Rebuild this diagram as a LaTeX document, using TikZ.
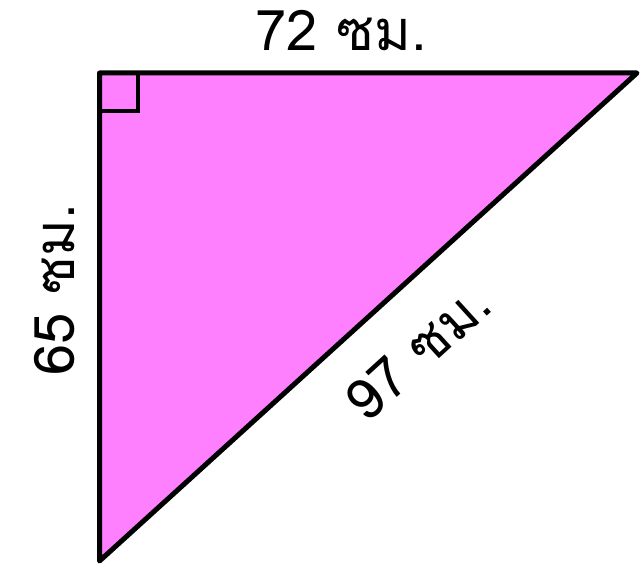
\documentclass[tikz,border=0pt]{standalone}
\usepackage{fontspec}
\newfontfamily\thaifont[Script=Thai]{Loma}
\definecolor{tri}{HTML}{FF80FF}
\begin{document}
\begin{tikzpicture}[x=1pt,y=-1pt,
  lbl/.style={font=\thaifont\fontsize{56}{60}\selectfont, inner sep=0pt},
  edge/.style={line width=5pt, line join=round}]
\useasboundingbox (0,0) rectangle (641,577);
\coordinate (A) at (99.5,73);
\coordinate (B) at (637,73);
\coordinate (C) at (99.5,561);
\fill[tri] (A) -- (B) -- (C) -- cycle;
\draw[line width=4pt] (99.5,111.5) -- (137.5,111.5) -- (137.5,73);
\draw[edge] (A) -- (B) -- (C) -- cycle;
\node[lbl] (t1) at (341,31) {72 ซม.};
\node[lbl, rotate=90] (t2) at (55,290) {65 ซม.};
\node[lbl, rotate=42.3] (t3) at (418,352) {97 ซม.};
\end{tikzpicture}
\end{document}
